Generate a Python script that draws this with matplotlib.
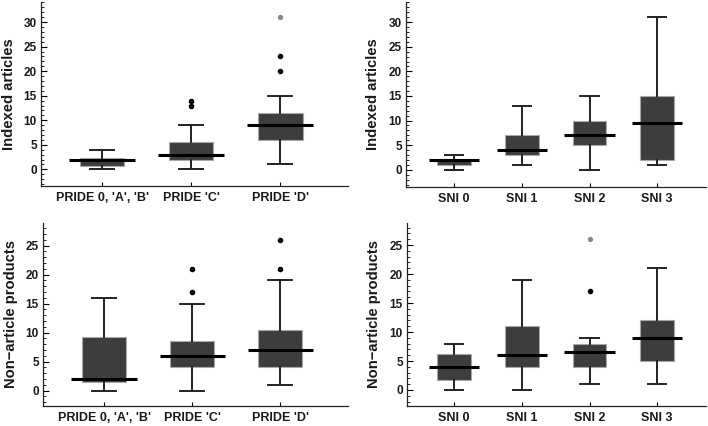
import matplotlib
matplotlib.use('Agg')
import matplotlib.pyplot as plt
from matplotlib.ticker import MultipleLocator

plt.rcParams['font.family'] = ['Liberation Sans', 'DejaVu Sans']

# ---- data ----
pride_labels = ["PRIDE 0, 'A', 'B'", "PRIDE 'C'", "PRIDE 'D'"]
sni_labels = ['SNI 0', 'SNI 1', 'SNI 2', 'SNI 3']

# indexed articles, PRIDE
ia_pride_lo = [0, 0, 1]
ia_pride_q1 = [0.7, 2, 6]
ia_pride_med = [2, 3, 9]
ia_pride_q3 = [2.4, 5.5, 11.5]
ia_pride_hi = [4, 9, 15]
ia_pride_out = [[], [13, 14], [20, 23]]
ia_pride_far = [[], [], [31]]

# indexed articles, SNI
ia_sni_lo = [0, 1, 0, 1]
ia_sni_q1 = [1, 3, 5, 2]
ia_sni_med = [2, 4, 7, 9.5]
ia_sni_q3 = [2.1, 7, 10, 15]
ia_sni_hi = [3, 13, 15, 31]
ia_sni_out = [[], [], [], []]
ia_sni_far = [[], [], [], []]

# non-article products, PRIDE
na_pride_lo = [0, 0, 1]
na_pride_q1 = [1.5, 4, 4]
na_pride_med = [2, 6, 7]
na_pride_q3 = [9.3, 8.5, 10.5]
na_pride_hi = [16, 15, 19]
na_pride_out = [[], [17, 21], [21, 26]]
na_pride_far = [[], [], []]

# non-article products, SNI
na_sni_lo = [0, 0, 1, 1]
na_sni_q1 = [1.8, 4, 4, 5]
na_sni_med = [4, 6, 6.5, 9]
na_sni_q3 = [6.2, 11, 8, 12]
na_sni_hi = [8, 19, 9, 21]
na_sni_out = [[], [], [17], []]
na_sni_far = [[], [], [26], []]


def draw_panel(ax, labels, lo, q1, med, q3, hi, out, far, ylabel, xlim, ylim, yticks, labx):
    pos = list(range(1, len(labels) + 1))
    stats = []
    for i in range(len(labels)):
        stats.append({'whislo': lo[i], 'q1': q1[i], 'med': med[i], 'q3': q3[i],
                      'whishi': hi[i], 'fliers': []})
    ax.bxp(stats, positions=pos, widths=0.5, capwidths=0.27, patch_artist=True,
           showfliers=False,
           boxprops=dict(facecolor='#3d3d3d', edgecolor='#a8a8a8', linewidth=0.8),
           whiskerprops=dict(color='#222222', linewidth=1.4),
           capprops=dict(color='#222222', linewidth=1.4),
           medianprops=dict(linewidth=0))
    # median bars are wider than the boxes
    ax.hlines(med, [p - 0.37 for p in pos], [p + 0.37 for p in pos],
              colors='black', linewidth=2.2, zorder=4)
    for p, vals in zip(pos, out):
        if vals:
            ax.plot([p] * len(vals), vals, 'o', color='black', markersize=3, zorder=5)
    for p, vals in zip(pos, far):
        if vals:
            ax.plot([p] * len(vals), vals, 'o', color='#888888', markersize=2.8, zorder=5)

    ax.set_xlim(*xlim)
    ax.set_ylim(*ylim)
    ax.set_xticks(pos)
    ax.set_xticklabels(labels, fontsize=9, fontweight='bold', color='#1a1a1a')
    ax.set_yticks(yticks)
    ax.set_yticklabels([str(t) for t in yticks], fontsize=8.5, fontweight='bold', color='#1a1a1a')
    ax.yaxis.set_minor_locator(MultipleLocator(1))
    ax.tick_params(axis='y', which='major', direction='in', length=4, width=0.8, pad=3)
    ax.tick_params(axis='y', which='minor', direction='in', length=2, width=0.6)
    ax.tick_params(axis='x', which='major', direction='in', length=3, width=0.8, pad=4.5)
    ax.spines['top'].set_visible(False)
    ax.spines['right'].set_visible(False)
    for s in ('left', 'bottom'):
        ax.spines[s].set_linewidth(0.9)
        ax.spines[s].set_color('#222222')
    ax.set_ylabel(ylabel, fontsize=10.6, fontweight='bold', color='#1a1a1a')
    ax.yaxis.set_label_coords(labx, 0.5)


W, H = 708, 426
fig = plt.figure(figsize=(W / 100, H / 100), dpi=100)


def box(l, r, t, b):
    return [l / W, 1 - b / H, (r - l) / W, (b - t) / H]


ax1 = fig.add_axes(box(41, 348, 2, 186))
ax2 = fig.add_axes(box(406, 706, 2, 187))
ax3 = fig.add_axes(box(43, 348, 223, 406))
ax4 = fig.add_axes(box(407, 706, 223, 406))

draw_panel(ax1, pride_labels, ia_pride_lo, ia_pride_q1, ia_pride_med, ia_pride_q3,
           ia_pride_hi, ia_pride_out, ia_pride_far, 'Indexed articles',
           (0.315, 3.76), (-3.4, 34.1), [0, 5, 10, 15, 20, 25, 30], -0.081)
draw_panel(ax2, sni_labels, ia_sni_lo, ia_sni_q1, ia_sni_med, ia_sni_q3,
           ia_sni_hi, ia_sni_out, ia_sni_far, 'Indexed articles',
           (0.29, 4.72), (-3.5, 34.1), [0, 5, 10, 15, 20, 25, 30], -0.087)
draw_panel(ax3, pride_labels, na_pride_lo, na_pride_q1, na_pride_med, na_pride_q3,
           na_pride_hi, na_pride_out, na_pride_far, 'Non\u2212article products',
           (0.307, 3.77), (-2.66, 28.9), [0, 5, 10, 15, 20, 25], -0.082)
draw_panel(ax4, sni_labels, na_sni_lo, na_sni_q1, na_sni_med, na_sni_q3,
           na_sni_hi, na_sni_out, na_sni_far, 'Non\u2212article products',
           (0.305, 4.72), (-2.76, 28.8), [0, 5, 10, 15, 20, 25], -0.087)

fig.savefig('out.png', dpi=100)
